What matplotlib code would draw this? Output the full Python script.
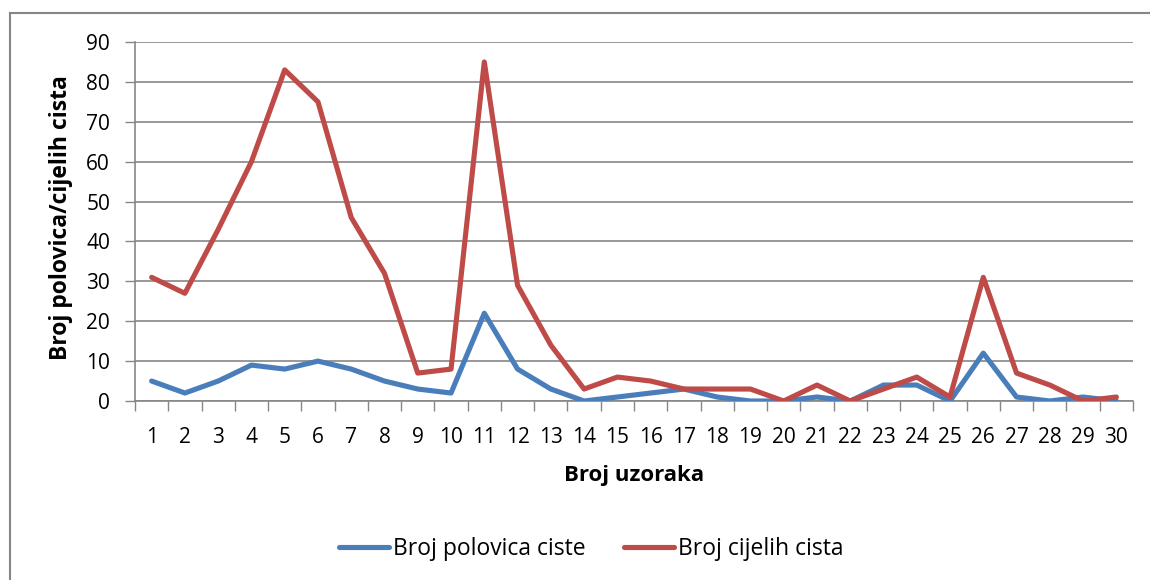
import matplotlib
matplotlib.use("Agg")
import matplotlib.pyplot as plt
from matplotlib.lines import Line2D

samples = list(range(1, 31))
polovica = [5, 2, 5, 9, 8, 10, 8, 5, 3, 2, 22, 8, 3, 0, 1, 2, 3, 1, 0, 0,
            1, 0, 4, 4, 0, 12, 1, 0, 1, 0]
cijelih = [31, 27, 43, 60, 83, 75, 46, 32, 7, 8, 85, 29, 14, 3, 6, 5, 3, 3, 3, 0,
           4, 0, 3, 6, 1, 31, 7, 4, 0, 1]
y_ticks = list(range(0, 91, 10))
series_names = ["Broj polovica ciste", "Broj cijelih cista"]
x_label = "Broj uzoraka"
y_label = "Broj polovica/cijelih cista"

plt.rcParams['font.family'] = ['Open Sans', 'DejaVu Sans']

W, H = 1150, 580
fig = plt.figure(figsize=(W / 100, H / 100), dpi=100)
ax = fig.add_axes([135 / W, 1 - 401 / H, (1133 - 135) / W, (401 - 42) / H])

grid_c = "#868686"
blue = "#4A7EBB"
red = "#BE4B48"
LW = 3.7

ax.plot(samples, polovica, color=blue, lw=LW, solid_joinstyle="round",
        solid_capstyle="round", label=series_names[0], zorder=3)
ax.plot(samples, cijelih, color=red, lw=LW, solid_joinstyle="round",
        solid_capstyle="round", label=series_names[1], zorder=3)

ax.set_xlim(0.5, 30.5)
ax.set_ylim(0, 90)
ax.set_yticks(y_ticks)
ax.set_xticks(samples)
ax.set_xticks([i + 0.5 for i in range(0, 31)], minor=True)
ax.tick_params(axis="x", which="major", length=0, pad=19, labelsize=15)
ax.tick_params(axis="x", which="minor", length=7, width=1, color=grid_c)
ax.tick_params(axis="y", which="major", length=7, width=1, color=grid_c,
               pad=11, labelsize=15)
ax.yaxis.grid(True, color=grid_c, lw=1.2)
ax.set_axisbelow(True)

for s in ["top", "right"]:
    ax.spines[s].set_visible(False)
for s in ["left", "bottom"]:
    ax.spines[s].set_color(grid_c)
    ax.spines[s].set_linewidth(1.2)

fig.text(61 / W, 1 - 218 / H, y_label, rotation=90, ha="center", va="center",
         fontsize=16.5, fontweight="bold")
fig.text(634 / W, 1 - 476 / H, x_label, ha="center", va="center",
         fontsize=16, fontweight="bold")

handles = [Line2D([], [], color=blue, lw=LW, solid_capstyle="round"),
           Line2D([], [], color=red, lw=LW, solid_capstyle="round")]
fig.legend(handles, series_names, loc="center", bbox_to_anchor=(591 / W, 1 - 549 / H),
           ncol=2, frameon=False, fontsize=16.5, handlelength=2.2,
           handletextpad=0.17, columnspacing=1.66)

# outer chart border
fig.add_artist(Line2D([10 / W, 10 / W], [0, 1 - 13 / H], color=grid_c, lw=1.5,
                      transform=fig.transFigure))
fig.add_artist(Line2D([10 / W, 1], [1 - 13 / H, 1 - 13 / H], color=grid_c, lw=1.5,
                      transform=fig.transFigure))

fig.savefig("out.png", dpi=100)
